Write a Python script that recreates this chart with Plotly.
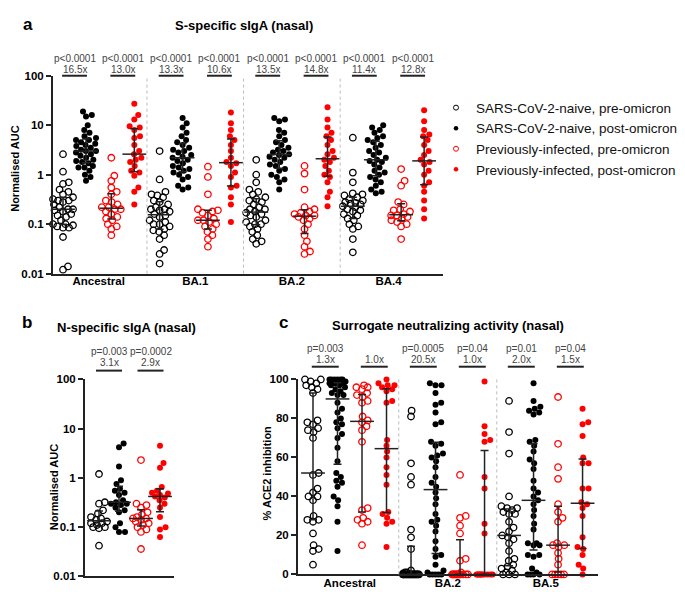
import math
import numpy as np
import plotly.graph_objects as go

W, H = 685, 592
FONT = "Arial, Liberation Sans, sans-serif"

def fx(px):
    return px / W

def fy(py):
    return 1 - py / H

SERIES_NAMES = ["SARS-CoV-2-naive, pre-omicron", "SARS-CoV-2-naive, post-omicron",
                "Previously-infected, pre-omicron", "Previously-infected, post-omicron"]
SERIES_COLORS = ["#000000", "#000000", "#ff0000", "#ff0000"]
SERIES_SYMBOLS = ["circle-open", "circle", "circle-open", "circle"]

# ---------------- Panel a: S-specific sIgA (nasal), Normalised AUC ----------------
a_variants = ["Ancestral", "BA.1", "BA.2", "BA.4"]
a_pvals = ["p<0.0001"] * 8
a_folds = ["16.5x", "13.0x", "13.3x", "10.6x", "13.5x", "14.8x", "11.4x", "12.8x"]

a_anc_naive_pre = [2.6, 1.15, 0.7, 0.65, 0.5, 0.45, 0.4, 0.35, 0.32, 0.3, 0.3, 0.28, 0.25, 0.22, 0.2, 0.2,
                   0.19, 0.18, 0.16, 0.15, 0.14, 0.12, 0.1, 0.1, 0.095, 0.09, 0.085, 0.085, 0.055, 0.014, 0.012]
a_anc_naive_post = [19, 16, 15, 10, 8, 7, 6, 5.5, 5, 5, 4.5, 4.2, 4, 3.8, 3.5, 3.2, 3, 3, 2.8, 2.6, 2.4, 2.2,
                    2, 1.9, 1.8, 1.7, 1.5, 1.4, 1.4, 1.2, 1, 0.9, 0.75]
a_anc_inf_pre = [2.2, 0.95, 0.75, 0.55, 0.45, 0.4, 0.3, 0.28, 0.25, 0.22, 0.22, 0.2, 0.2, 0.18, 0.16, 0.14,
                 0.13, 0.12, 0.1, 0.09, 0.08, 0.06]
a_anc_inf_post = [27, 16, 13, 9.5, 9, 8, 6, 5.5, 4, 3, 2.6, 2.2, 2, 1.8, 1.5, 1.2, 1.1, 0.95, 0.55, 0.45, 0.25]

a_ba1_naive_pre = [3, 0.8, 0.45, 0.4, 0.38, 0.35, 0.3, 0.28, 0.25, 0.22, 0.2, 0.2, 0.19, 0.18, 0.16, 0.15,
                   0.14, 0.12, 0.11, 0.1, 0.1, 0.09, 0.08, 0.075, 0.07, 0.06, 0.05, 0.03, 0.025, 0.016]
a_ba1_naive_post = [14, 11, 9, 7, 6, 5, 4.5, 4, 3.5, 3.2, 3, 2.8, 2.5, 2.3, 2.2, 2, 1.9, 1.7, 1.5, 1.4, 1.3,
                    1.2, 1.1, 1, 0.9, 0.8, 0.6, 0.55, 0.5]
a_ba1_inf_pre = [1.45, 0.9, 0.4, 0.2, 0.19, 0.18, 0.17, 0.15, 0.13, 0.12, 0.12, 0.11, 0.1, 0.09, 0.08, 0.07,
                 0.06, 0.05, 0.035]
a_ba1_inf_post = [18, 11, 8, 6, 5, 4, 3, 2.2, 1.8, 1.7, 1.5, 1.1, 0.9, 0.6, 0.55, 0.35, 0.25, 0.11]

a_ba2_naive_pre = [2, 1.0, 0.7, 0.5, 0.45, 0.4, 0.35, 0.32, 0.3, 0.28, 0.25, 0.22, 0.2, 0.2, 0.18, 0.17, 0.16,
                   0.15, 0.14, 0.12, 0.11, 0.1, 0.1, 0.09, 0.08, 0.07, 0.06, 0.05, 0.045, 0.04]
a_ba2_naive_post = [14, 13, 12, 8, 7, 6, 5, 4.5, 4, 3.5, 3.2, 3, 2.8, 2.6, 2.5, 2.3, 2.2, 2, 1.8, 1.6, 1.5,
                    1.3, 1.2, 1, 0.9, 0.8, 0.7, 0.5]
a_ba2_inf_pre = [1.5, 1.05, 0.5, 0.22, 0.2, 0.18, 0.17, 0.16, 0.15, 0.15, 0.14, 0.13, 0.12, 0.1, 0.08, 0.06,
                 0.045, 0.035, 0.028, 0.025]
a_ba2_inf_post = [23, 13, 9, 7, 6, 5, 4, 3, 2.6, 2.2, 2, 1.8, 1.5, 1.2, 1, 0.9, 0.7, 0.45, 0.35, 0.23]

a_ba4_naive_pre = [5.6, 1.1, 0.7, 0.42, 0.4, 0.38, 0.35, 0.32, 0.3, 0.28, 0.27, 0.26, 0.25, 0.23, 0.22, 0.2,
                   0.19, 0.18, 0.16, 0.15, 0.13, 0.12, 0.1, 0.09, 0.08, 0.05, 0.027]
a_ba4_naive_post = [10, 9, 8, 7, 6, 5.5, 5, 4.5, 4, 3.5, 3, 2.8, 2.5, 2.2, 2, 1.9, 1.8, 1.6, 1.4, 1.2, 1.1, 1,
                    0.9, 0.8, 0.7, 0.6, 0.5, 0.45, 0.42]
a_ba4_inf_pre = [1.3, 0.75, 0.6, 0.28, 0.25, 0.2, 0.19, 0.18, 0.16, 0.15, 0.15, 0.14, 0.13, 0.12, 0.11, 0.1,
                 0.09, 0.05]
a_ba4_inf_post = [20, 12, 8, 6.5, 6, 5, 4, 3, 2.5, 2, 1.8, 1.6, 1.2, 1, 0.7, 0.6, 0.45, 0.3, 0.2, 0.13]

# ---------------- Panel b: N-specific sIgA (nasal) ----------------
b_pvals = ["p=0.003", "p=0.0002"]
b_folds = ["3.1x", "2.9x"]
b_naive_pre = [1.2, 0.32, 0.3, 0.22, 0.19, 0.16, 0.15, 0.14, 0.13, 0.12, 0.12, 0.11, 0.1, 0.1, 0.095, 0.042]
b_naive_post = [5, 4.2, 1.7, 0.9, 0.75, 0.6, 0.55, 0.5, 0.45, 0.35, 0.32, 0.3, 0.3, 0.28, 0.25, 0.22, 0.2,
                0.12, 0.1, 0.08, 0.08]
b_inf_pre = [2.3, 0.3, 0.28, 0.25, 0.2, 0.18, 0.16, 0.15, 0.15, 0.14, 0.13, 0.12, 0.11, 0.1, 0.09, 0.08, 0.036]
b_inf_post = [4.5, 2, 1.6, 0.65, 0.55, 0.5, 0.48, 0.45, 0.42, 0.4, 0.35, 0.3, 0.25, 0.16, 0.1, 0.09, 0.063]

# ---------------- Panel c: Surrogate neutralizing activity (nasal), % ACE2 inhibition ----------------
c_variants = ["Ancestral", "BA.2", "BA.5"]
c_pvals = ["p=0.003", "", "p=0.0005", "p=0.04", "p=0.01", "p=0.04"]
c_folds = ["1.3x", "1.0x", "20.5x", "1.0x", "2.0x", "1.5x"]

c_anc_naive_pre = [100, 100, 99, 98, 97, 96, 95, 93, 79, 78, 77, 75, 74, 73, 70, 52, 51, 44, 42, 40, 40, 38,
                   30, 28, 28, 27, 21, 15, 13, 12, 5]
c_anc_naive_post = [100, 100, 100, 100, 100, 100, 99, 99, 99, 99, 98, 98, 98, 97, 97, 96, 95, 94, 93, 92, 92,
                    88, 85, 83, 80, 78, 77, 75, 72, 70, 65, 58, 52, 50, 48, 47, 45, 40, 38, 35, 27, 12]
c_anc_inf_pre = [97, 96, 96, 95, 93, 92, 91, 89, 88, 81, 79, 78, 76, 74, 68, 34, 33, 29, 28, 27, 26, 15]
c_anc_inf_post = [100, 98, 97, 97, 96, 95, 94, 89, 88, 69, 66, 63, 60, 55, 51, 46, 32, 31, 29, 27, 26, 14]

c_ba2_naive_pre = [84, 81, 57, 50, 46, 23, 19, 13, 2, 1, 1, 0.5, 0, 0, 0, 0, 0, 0, 0, 0, 0, 0, 0, 0, 0, 0,
                   0, 0, 0, 0]
c_ba2_naive_post = [98, 97, 97, 93, 88, 87, 83, 78, 77, 68, 67, 66, 62, 61, 60, 58, 55, 50, 47, 45, 42, 39,
                    36, 31, 28, 27, 25, 22, 17, 13, 10, 9, 5, 2, 1, 0, 0, 0, 0, 0]
c_ba2_inf_pre = [51, 30, 29, 25, 21, 8, 7, 1, 0, 0, 0, 0, 0, 0, 0, 0, 0, 0, 0, 0]
c_ba2_inf_post = [99, 76, 72, 69, 68, 50, 44, 26, 21, 0, 0, 0, 0, 0, 0, 0, 0, 0, 0, 0]

c_ba5_naive_pre = [89, 73, 62, 40, 35, 34, 34, 33, 32, 31, 31, 27, 24, 22, 20, 19, 18, 16, 12, 8, 7, 5, 4, 3,
                   2, 1, 0, 0, 0]
c_ba5_naive_post = [98, 89, 86, 85, 84, 83, 82, 69, 68, 66, 63, 59, 57, 54, 48, 44, 42, 40, 38, 36, 33, 30,
                    26, 23, 16, 16, 15, 15, 10, 10, 9, 3, 1, 0, 0, 0, 0]
c_ba5_inf_pre = [91, 67, 55, 49, 36, 32, 29, 27, 16, 15, 15, 14, 11, 8, 5, 0, 0, 0, 0, 0]
c_ba5_inf_post = [85, 78, 77, 71, 60, 57, 57, 44, 44, 37, 36, 34, 30, 19, 14, 13, 10, 5, 3, 0]

A_DATA = [[a_anc_naive_pre, a_anc_naive_post, a_anc_inf_pre, a_anc_inf_post],
          [a_ba1_naive_pre, a_ba1_naive_post, a_ba1_inf_pre, a_ba1_inf_post],
          [a_ba2_naive_pre, a_ba2_naive_post, a_ba2_inf_pre, a_ba2_inf_post],
          [a_ba4_naive_pre, a_ba4_naive_post, a_ba4_inf_pre, a_ba4_inf_post]]
B_DATA = [[b_naive_pre, b_naive_post, b_inf_pre, b_inf_post]]
C_DATA = [[c_anc_naive_pre, c_anc_naive_post, c_anc_inf_pre, c_anc_inf_post],
          [c_ba2_naive_pre, c_ba2_naive_post, c_ba2_inf_pre, c_ba2_inf_post],
          [c_ba5_naive_pre, c_ba5_naive_post, c_ba5_inf_pre, c_ba5_inf_post]]


def swarm(ypx, d, maxhalf):
    """Simple beeswarm: returns horizontal pixel offsets for the given vertical pixel positions."""
    order = np.argsort(ypx)
    placed = []
    xs = np.zeros(len(ypx))
    for i in order:
        y = ypx[i]
        cands = [0.0]
        for (px, py) in placed:
            dy = abs(py - y)
            if dy < d:
                dx = math.sqrt(d * d - dy * dy)
                cands += [px + dx, px - dx]
        cands.sort(key=lambda c: (round(abs(c), 6), -c))
        chosen = None
        for c in cands:
            if abs(c) > maxhalf + 1e-9:
                continue
            if all((c - px) ** 2 + (y - py) ** 2 >= d * d - 1e-6 for px, py in placed):
                chosen = c
                break
        if chosen is None:
            grid = np.linspace(-maxhalf, maxhalf, 17)
            chosen = max(grid, key=lambda c: min(((c - px) ** 2 + (y - py) ** 2) for px, py in placed))
        xs[i] = chosen
        placed.append((chosen, y))
    return xs


fig = go.Figure()

panels = [
    dict(data=A_DATA, xa="x", ya="y", ppu=23.0, ypx=lambda v: np.log10(v) * 50.5, step=4.2,
         offs=[0, 1, 2.1, 3.1], maxhalf=10),
    dict(data=B_DATA, xa="x2", ya="y2", ppu=20.0, ypx=lambda v: np.log10(v) * 50.25, step=4.2,
         offs=[0, 1, 2.1, 3.05], maxhalf=8),
    dict(data=C_DATA, xa="x3", ya="y3", ppu=24.5, ypx=lambda v: np.asarray(v) * 1.99, step=4.0,
         offs=[0, 1, 2, 3], maxhalf=8),
]

for pi, P in enumerate(panels):
    for g, group in enumerate(P["data"]):
        for s, vals in enumerate(group):
            vals = np.asarray(vals, dtype=float)
            center = g * P["step"] + P["offs"][s]
            off = swarm(P["ypx"](vals), 6.0, P["maxhalf"]) / P["ppu"]
            open_sym = SERIES_SYMBOLS[s] == "circle-open"
            fig.add_trace(go.Scatter(
                x=center + off, y=vals, mode="markers", xaxis=P["xa"], yaxis=P["ya"],
                name=SERIES_NAMES[s], legendgroup=SERIES_NAMES[s], showlegend=False, cliponaxis=False,
                marker=dict(symbol=SERIES_SYMBOLS[s], color=SERIES_COLORS[s],
                            size=6.5 if open_sym else 6,
                            line=dict(width=1.3 if open_sym else 0, color=SERIES_COLORS[s]))))
    for g, group in enumerate(P["data"]):
        for s, vals in enumerate(group):
            vals = np.asarray(vals, dtype=float)
            center = g * P["step"] + P["offs"][s]
            med = float(np.median(vals))
            q1, q3 = np.percentile(vals, [25, 75], method="weibull")
            fig.add_trace(go.Scatter(
                x=[center], y=[med], mode="markers", xaxis=P["xa"], yaxis=P["ya"], showlegend=False,
                cliponaxis=False, hoverinfo="skip",
                marker=dict(symbol="line-ew", size=17, color="#222", line=dict(width=1.5, color="#222")),
                error_y=dict(type="data", symmetric=False, array=[q3 - med], arrayminus=[med - q1],
                             color="#222", thickness=1.5, width=4)))

# legend entries (small symbols, like the reference legend)
for s in range(4):
    open_sym = SERIES_SYMBOLS[s] == "circle-open"
    fig.add_trace(go.Scatter(
        x=[None], y=[None], mode="markers", name=SERIES_NAMES[s], legendgroup=SERIES_NAMES[s],
        showlegend=True,
        marker=dict(symbol=SERIES_SYMBOLS[s], color=SERIES_COLORS[s], size=5 if open_sym else 4.5,
                    line=dict(width=1 if open_sym else 0, color=SERIES_COLORS[s]))))

annotations = []
shapes = []

def add_text(x, y, text, size, xref="paper", yref="paper", weight="normal", color="#222", angle=0):
    annotations.append(dict(x=x, y=y, xref=xref, yref=yref, text=text, showarrow=False,
                            font=dict(family=FONT, size=size, color=color, weight=weight),
                            xanchor="center", yanchor="middle", textangle=angle))

def comparisons(P, pvals, folds, p_y, f_y, bar_y, half):
    k = 0
    for g in range(len(P["data"])):
        for pair in [(0, 1), (2, 3)]:
            mid = g * P["step"] + (P["offs"][pair[0]] + P["offs"][pair[1]]) / 2
            if pvals[k]:
                add_text(mid, fy(p_y), pvals[k], 10, xref=P["xa"], color="#444")
            add_text(mid, fy(f_y), folds[k], 10, xref=P["xa"], color="#444")
            shapes.append(dict(type="line", xref=P["xa"], yref="paper", x0=mid - half, x1=mid + half,
                               y0=fy(bar_y), y1=fy(bar_y), line=dict(color="#222", width=2)))
            k += 1

comparisons(panels[0], a_pvals, a_folds, 45, 57, 63, 0.54)
comparisons(panels[1], b_pvals, b_folds, 344, 356, 364, 0.65)
comparisons(panels[2], c_pvals, c_folds, 341, 353, 360, 0.55)

for P, ya in [(panels[0], "y"), (panels[2], "y3")]:
    for g in range(1, len(P["data"])):
        xs = (g - 1) * P["step"] + P["offs"][3] + (P["step"] - P["offs"][3]) / 2
        shapes.append(dict(type="line", xref=P["xa"], yref=ya + " domain", x0=xs, x1=xs, y0=0, y1=1,
                           line=dict(color="#bbbbbb", width=1, dash="dot")))

add_text(fx(20), fy(11), "a", 17, weight="bold", color="#000")
add_text(fx(236), fy(12), "S-specific sIgA (nasal)", 13, weight="bold", color="#000")
add_text(fx(19), fy(315), "b", 17, weight="bold", color="#000")
add_text(fx(118), fy(320), "N-specific sIgA (nasal)", 13, weight="bold", color="#000")
add_text(fx(275), fy(315), "c", 17, weight="bold", color="#000")
add_text(fx(440), fy(318), "Surrogate neutralizing activity (nasal)", 13, weight="bold", color="#000")

add_text(fx(7), fy(158), "Normalised AUC", 11, weight="bold", color="#000", angle=-90)
add_text(fx(46), fy(483), "Normalised AUC", 11, weight="bold", color="#000", angle=-90)
add_text(fx(259), fy(469), "% ACE2 inhibition", 11, weight="bold", color="#000", angle=-90)

axis_common = dict(showgrid=False, zeroline=False, showline=True, linecolor="#222", linewidth=2)
log_ticks = [0.01, 0.1, 1, 10, 100]
log_text = ["0.01", "0.1", "1", "10", "100"]

def xcenters(P):
    return [g * P["step"] + (P["offs"][0] + P["offs"][3]) / 2 for g in range(len(P["data"]))]

fig.update_layout(
    width=W, height=H, margin=dict(l=0, r=0, t=0, b=0),
    paper_bgcolor="white", plot_bgcolor="white",
    font=dict(family=FONT, color="#000"),
    xaxis=dict(domain=[fx(45), fx(435)], range=[-0.435, 16.52], anchor="y",
               tickvals=xcenters(panels[0]), ticktext=a_variants, ticks="", ticklabelstandoff=-4,
               tickfont=dict(size=11.5, weight="bold", color="#000"), **axis_common),
    yaxis=dict(domain=[fy(265), fy(63)], type="log", range=[-2, 2], anchor="x",
               tickvals=log_ticks, ticktext=log_text, ticks="outside", ticklen=5, tickwidth=1.5,
               tickcolor="#222", tickfont=dict(size=11.5, weight="bold", color="#000"), **axis_common),
    xaxis2=dict(domain=[fx(77), fx(166)], range=[-0.7, 3.75], anchor="y2", showticklabels=False,
                ticks="", **axis_common),
    yaxis2=dict(domain=[fy(574), fy(373)], type="log", range=[-2, 2], anchor="x2",
                tickvals=log_ticks, ticktext=log_text, ticks="outside", ticklen=5, tickwidth=1.5,
                tickcolor="#222", tickfont=dict(size=11.5, weight="bold", color="#000"), **axis_common),
    xaxis3=dict(domain=[fx(290), fx(590)], range=[-0.612, 11.63], anchor="y3",
                tickvals=xcenters(panels[2]), ticktext=c_variants, ticks="", ticklabelstandoff=-3,
                tickfont=dict(size=11.5, weight="bold", color="#000"), **axis_common),
    yaxis3=dict(domain=[fy(572), fy(373)], range=[0, 100], anchor="x3",
                tickvals=[0, 20, 40, 60, 80, 100], ticks="outside", ticklen=5, tickwidth=1.5,
                tickcolor="#222", tickfont=dict(size=11.5, weight="bold", color="#000"), **axis_common),
    legend=dict(x=fx(428), y=fy(80), xanchor="left", yanchor="top", bgcolor="rgba(0,0,0,0)",
                font=dict(family=FONT, size=13.5, color="#111"), tracegroupgap=0, itemsizing="trace"),
    annotations=annotations, shapes=shapes,
)

fig.write_html("out.html")
